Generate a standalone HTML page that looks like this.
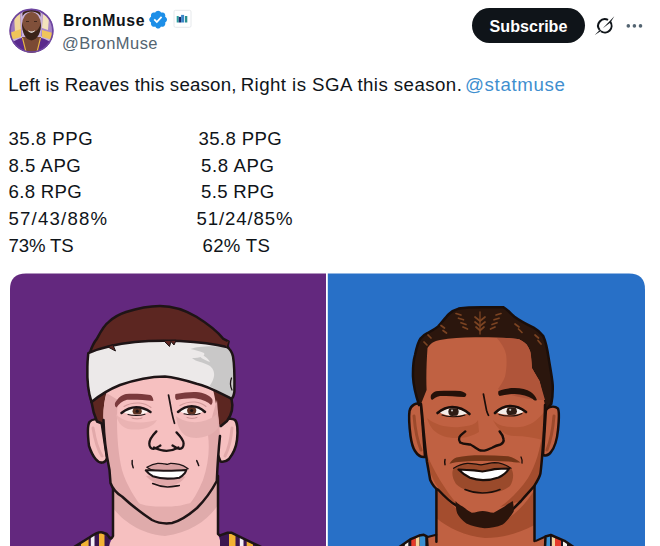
<!DOCTYPE html>
<html><head><meta charset="utf-8">
<style>
html,body{margin:0;padding:0;background:#fff;width:660px;height:546px;overflow:hidden;position:relative;font-family:"Liberation Sans",sans-serif;color:#0f1419}
.abs{position:absolute;white-space:pre;line-height:1}
#name{left:63px;top:13px;font-size:15.8px;font-weight:bold;letter-spacing:0.6px}
#handle{left:62px;top:35px;font-size:16.5px;color:#536471;letter-spacing:0.45px}
.tw{top:76px;font-size:18.7px}
.st{font-size:18.6px;letter-spacing:0.5px}
#sub{left:472px;top:8px;width:113px;height:35px;padding-top:1px;box-sizing:border-box;border-radius:18px;background:#0f1419;color:#fff;font-size:16.1px;font-weight:bold;text-align:center;line-height:35px}
#p1{left:10px;top:274px;width:316px;height:300px;background:#63277d;border-top-left-radius:16px}
#p2{left:328px;top:274px;width:317px;height:300px;background:#2b6bc5;border-top-right-radius:16px}
</style></head><body>
<svg class="abs" style="left:0;top:0" width="200" height="60" viewBox="0 0 200 60">
<defs><clipPath id="avc"><circle cx="31.5" cy="30.7" r="22"/></clipPath></defs>
<g clip-path="url(#avc)">
<rect x="0" y="0" width="60" height="60" fill="#c9b3dc"/>
<path d="M8 10 L20 8 L22 36 L8 40 Z" fill="#9a74bd"/>
<path d="M43 8 L56 10 L56 40 L41 36 Z" fill="#a885c6"/>
<path d="M14 14 L20 12 L21 30 L15 33 Z" fill="#f0d59a"/>
<path d="M43 14 L49 17 L48 30 L42 28 Z" fill="#f3e2bc"/>
<path d="M9 33 L21 29 L21 37 L10 40 Z" fill="#f0c55a"/>
<path d="M42 30 L53 33 L53 40 L42 37 Z" fill="#f0c55a"/>
<path d="M8 56 L10 44 C15 40 21 37.5 25 37.5 L38 37.5 C42 37.5 48 40 53 44 L55 56 Z" fill="#5a2a8c"/>
<path d="M22 37 L41 37 L37 56 L26 56 Z" fill="#7b4a34"/>
<path d="M22.5 38 L26.5 54 M40.5 38 L36.5 54" fill="none" stroke="#e8b84a" stroke-width="1.1"/>
<ellipse cx="31.5" cy="25" rx="9.5" ry="13" fill="#80503a"/>
<path d="M22 22 C22 33 25 39.5 31.5 40.5 C38 39.5 41 33 41 22 C39.5 29 36.5 32 31.5 32 C26.5 32 23.5 29 22 22 Z" fill="#3a2318"/>
<path d="M28 30 C30 32 33 32 35 30 C34.5 33.5 28.5 33.5 28 30 Z" fill="#fff"/>
<path d="M22.5 17 C24 10 39 10 40.5 17 L40.5 13 C37 8 26 8 22.5 13 Z" fill="#3a2318"/>
<path d="M26 21.5 L29 21.5 M34 21.5 L37 21.5" stroke="#3a2318" stroke-width="0.9"/>
</g>
<circle cx="31.5" cy="30.7" r="21.3" fill="none" stroke="#6d46a0" stroke-width="1.6"/>
<g transform="translate(147.7,9.2) scale(0.947)"><path fill="#1d8fe8" d="M20.396 11c-.018-.646-.215-1.275-.57-1.816-.354-.54-.852-.972-1.438-1.246.223-.607.27-1.264.14-1.897-.131-.634-.437-1.218-.882-1.687-.47-.445-1.053-.75-1.687-.882-.633-.13-1.29-.083-1.897.14-.273-.587-.704-1.086-1.245-1.44S11.647 1.62 11 1.604c-.646.017-1.273.213-1.813.568s-.969.854-1.24 1.44c-.608-.223-1.267-.272-1.902-.14-.635.13-1.22.436-1.69.882-.445.47-.749 1.055-.878 1.688-.13.633-.08 1.29.144 1.896-.587.274-1.087.705-1.443 1.245-.356.54-.555 1.17-.574 1.817.02.647.218 1.276.574 1.817.356.54.856.972 1.443 1.245-.224.606-.274 1.263-.144 1.896.13.634.433 1.218.877 1.688.47.443 1.054.747 1.687.878.633.132 1.29.084 1.897-.136.274.586.705 1.084 1.246 1.439.54.354 1.17.551 1.816.569.647-.016 1.276-.213 1.817-.567s.972-.854 1.245-1.44c.604.239 1.266.296 1.903.164.636-.132 1.22-.447 1.68-.907.46-.46.776-1.044.908-1.681s.075-1.299-.165-1.903c.586-.274 1.084-.705 1.439-1.246.354-.54.551-1.17.569-1.816z"/><path fill="#fff" d="M9.662 14.85l-3.429-3.428 1.293-1.302 2.072 2.072 4.4-4.794 1.347 1.246z"/></g>
<rect x="174" y="10.3" width="17" height="17" rx="1.5" fill="#fff" stroke="#e6e9ec" stroke-width="1"/>
<rect x="176.7" y="16" width="2" height="6.5" fill="#2aa0a0"/>
<rect x="178.7" y="16.9" width="2.4" height="5.6" fill="#1b2d6e"/>
<rect x="181.1" y="14.9" width="3" height="7.6" fill="#3a86c8"/>
<rect x="184.9" y="16" width="2.4" height="6.5" fill="#2a8f8f"/>
</svg>
<div class="abs" id="name">BronMuse</div>
<div class="abs" id="handle">@BronMuse</div>
<div class="abs" id="sub">Subscribe</div>
<svg class="abs" style="left:590px;top:8px" width="70" height="36" viewBox="590 8 70 36">
<path d="M608.05 19.88 A6.7 6.7 0 0 0 599.62 29.92" fill="none" stroke="#0f1419" stroke-width="2"/>
<path d="M600.96 31.22 A6.7 6.7 0 0 0 610.18 21.68" fill="none" stroke="#0f1419" stroke-width="2"/>
<path d="M602.8 28.2 L614.3 16.3 L610.5 22.5 Z" fill="#0f1419"/>
<path d="M594.8 35 L600.2 29.6 L601.4 30.8 Z" fill="#0f1419"/>
<circle cx="628.3" cy="25.9" r="1.8" fill="#536471"/>
<circle cx="634.4" cy="25.9" r="1.8" fill="#536471"/>
<circle cx="640.5" cy="25.9" r="1.8" fill="#536471"/>
</svg>
<div class="abs tw" style="left:8.2px;letter-spacing:0.19px">Left is Reaves this season,</div>
<div class="abs tw" style="left:240.7px;letter-spacing:0.43px">Right is SGA this season.</div>
<div class="abs tw" style="left:464.9px;letter-spacing:0.66px;color:#3f8fcf">@statmuse</div>
<div class="abs st" style="left:8.5px;top:130px;letter-spacing:0.5px">35.8 PPG</div>
<div class="abs st" style="left:8.5px;top:157px;letter-spacing:0.5px">8.5 APG</div>
<div class="abs st" style="left:8.5px;top:183px;letter-spacing:0.33px">6.8 RPG</div>
<div class="abs st" style="left:8.5px;top:210px;letter-spacing:1.2px">57/43/88%</div>
<div class="abs st" style="left:8.5px;top:237px;letter-spacing:-0.14px">73% TS</div>
<div class="abs st" style="left:198.4px;top:130px;letter-spacing:0.4px">35.8 PPG</div>
<div class="abs st" style="left:201px;top:157px;letter-spacing:0.6px">5.8 APG</div>
<div class="abs st" style="left:201px;top:183px;letter-spacing:0.33px">5.5 RPG</div>
<div class="abs st" style="left:196.4px;top:210px;letter-spacing:0.91px">51/24/85%</div>
<div class="abs st" style="left:202.6px;top:237px;letter-spacing:0.28px">62% TS</div>
<svg class="abs" style="left:0;top:0" width="660" height="546" viewBox="0 0 660 546">
<defs>
<clipPath id="c1"><path d="M10 289.5 Q10 273.5 26 273.5 L326 273.5 L326 546 L10 546 Z"/></clipPath>
<clipPath id="c2"><path d="M327.8 273.5 L629 273.5 Q645 273.5 645 289.5 L645 546 L327.8 546 Z"/></clipPath>
</defs>
<g clip-path="url(#c1)">
<rect x="10" y="273" width="316" height="273" fill="#63287e"/>
<g stroke="#1e1416" stroke-width="2.5" stroke-linejoin="round" stroke-linecap="round">
<!-- neck -->
<path d="M113 478 L113 536 L107 550 L223 550 L218 534 L218 476 Z" fill="#f6c0c0" stroke="none"/>
<path d="M113 486 C125 500 145 518 165 523 C185 520 205 503 218 480 L218 505 C208 520 190 533 165 536 C140 534 122 520 113 508 Z" fill="#dfabab" stroke="none"/>
<!-- jersey left -->
<clipPath id="jr1"><path d="M75.9 546 L89.7 537.3 Q100 530 102.4 532.5 L106.7 534 L109.8 537.8 L109 550 L70 550 Z"/></clipPath>
<g clip-path="url(#jr1)" stroke="none">
<rect x="60" y="525" width="60" height="25" fill="#3b1650"/>
<rect x="81" y="525" width="7.6" height="25" fill="#f2b233"/>
<rect x="90.8" y="525" width="3.7" height="25" fill="#f3eef5"/>
<rect x="99" y="525" width="5.5" height="25" fill="#f2b233"/>
</g>
<path d="M74 547 L89.7 537.3 Q98 531.5 102.4 532.5 L106.7 534 L109.8 537.8" fill="none"/>
<path d="M113 478 L113 536 Q111 540 109.8 537.8" fill="none"/>
<!-- jersey right -->
<clipPath id="jr2"><path d="M220 535.4 L227.6 532.8 L231.8 532.8 L245.6 539.7 L261 547 L220 550 Z"/></clipPath>
<g clip-path="url(#jr2)" stroke="none">
<rect x="215" y="525" width="50" height="25" fill="#3b1650"/>
<rect x="229" y="525" width="6.5" height="25" fill="#f2b233"/>
<rect x="239.8" y="525" width="3.7" height="25" fill="#f3eef5"/>
<rect x="246.7" y="525" width="6.3" height="25" fill="#f2b233"/>
</g>
<path d="M261 547 L245.6 539.7 L231.8 532.8 L227.6 532.8 L220 535.4" fill="none"/>
<path d="M218 476 L218 534 L220 535.4" fill="none"/>
<!-- ears -->
<path d="M101.5 422 C97 418 92 419 89.5 422 C87 426 87.4 433 89 446 C91 452 93 456 95.6 459 C98 462 101 463 103 462.4 C105 462 106.5 460 107 458 Z" fill="#f6c0c0"/>
<path d="M93 428 C95 440 98 450 102 456" fill="none" stroke="#e2a9aa" stroke-width="3"/>
<path d="M223 422 C227 418 232 418 235 420 C238 423 238 430 237 440 C236 448 233 454 229 459 C226 462 223 462 220.5 461.5 L214 445 L214 424 Z" fill="#f6c0c0"/>
<path d="M232 428 C231 440 228 450 225 456" fill="none" stroke="#e2a9aa" stroke-width="3"/>
<!-- hair dome -->
<path d="M88 362 L89.7 353.2 C92 346 95 341 97 338.6 C101 331 104 325 109 321.7 C114 317 120 314 126 312 C138 308 150 305.9 160 305.9 C175 306 187 311 196.4 316.8 C208 324 217 331 223 338.6 L228.6 341.5 L227.5 346 L230 352 L229 395 L231.5 399 C233.5 407 231.5 415 227 421 L221 426 L106 426 L101 423 L97 421.5 C94 415 92.5 409 91.5 402 L88 380 Z" fill="#5c2621"/>
<!-- face -->
<path d="M106 375 L106.4 393 C104 402 103 412 103.5 420 C104 440 107 458 109.5 470 C110 476 110.3 480 110.5 483 C113 490 118 494 122 496.5 C130 504 140 512 152 520 C158 523 165 524 172 523 C180 521 190 514 197 508 C205 500 212 490 216.8 481 C217.5 465 218.5 450 220 436 C220 428 218 412 213 389 L213 375 Z" fill="#f6c0c0" stroke="none"/>
<!-- face shading -->
<path d="M106.4 393 C104 402 103 412 103.5 420 C104 440 107 458 109.5 470 C110 476 110.3 480 110.5 483 C113 490 118 494 122 496.5 C130 504 140 512 152 520 C140 505 128 490 122 470 C117 450 116 420 118 400 Z" fill="#e2aaab" stroke="none"/>
<path d="M217 400 C218 415 219.5 425 220 436 C218.5 450 217.5 465 216.8 481 C212 490 205 500 197 508 C190 514 180 521 172 523 C185 512 196 498 203 480 C208 465 210 450 208 435 C210 425 213 412 217 400 Z" fill="#e2aaab" stroke="none"/>
<path d="M116 414 C122 422 140 425 157 420 C153 428 140 431 128 429 C121 427 117 421 116 414 Z" fill="#eab3b3" stroke="none"/>
<path d="M176 416 C186 424 204 425 217 414 L218 428 C210 438 196 440 186 436 C180 432 177 425 176 416 Z" fill="#e6b1b1" stroke="none"/>
<path d="M130 500 C135 502 140 504 146 505.5 C152 506.5 158 506.6 165 506.6 C172 506.6 176 506 180.8 505.5 C187 504 192 502.5 199 500 C195 506 190 511 184 516 C178 520 172 522.5 165 523 C158 522.5 152 520 146 515 C140 510 134 505 130 500 Z" fill="#e4adad" stroke="none"/>
<path d="M103.5 420 C104 440 107 458 109.5 470 C110 476 110.3 480 110.5 483 C113 490 118 494 122 496.5 C130 504 140 512 152 520 C158 523 165 524 172 523 C180 521 190 514 197 508 C205 500 212 490 216.8 481 C217.5 465 218.5 450 220 436" fill="none"/>
<!-- headband -->
<path d="M88.3 353.2 C100 348 115 344 135 342 C150 340.5 165 340.5 180 341 C200 342 215 344 227 347 C230 349 232 352 233 356.4 C234.5 365 234.6 380 234.4 391.5 C234 395 233 397.5 231.5 398.8 C220 393 208 386 196.6 383.7 C185 380 175 377 165 376.4 C150 376.5 134 380 120 385 C110 389 100 395 91.5 402 C88 392 87 380 87.4 367 C87.5 360 88 356 88.3 353.2 Z" fill="#ece9e9" stroke="none"/>
<path d="M190.5 349 C198 346 212 345.5 227 347 C230 349 232 352 233 356.4 C234.5 365 234.6 380 234.4 391.5 C234 395 233 397.5 231.5 398.8 C225 395 217 390 209.5 386 C214 380 217 372 210 366 C204 362 196 362 192 358 C200 358 206 356 204 353 C200 351 195 350 190.5 349 Z" fill="#c9c8c8" stroke="none"/>
<path d="M196 352 C202 354 208 358 210 362 C204 360 199 357 196 352 Z" fill="#ece9e9" stroke="none"/>
<path d="M231.5 378 C230 382 230.5 387 232 390" fill="none" stroke-width="1.3"/>
<path d="M88.3 353.2 C100 348 115 344 135 342 C150 340.5 165 340.5 180 341 C200 342 215 344 227 347 C230 349 232 352 233 356.4 C234.5 365 234.6 380 234.4 391.5 C234 395 233 397.5 231.5 398.8 C220 393 208 386 196.6 383.7 C185 380 175 377 165 376.4 C150 376.5 134 380 120 385 C110 389 100 395 91.5 402 C88 392 87 380 87.4 367 C87.5 360 88 356 88.3 353.2 Z" fill="none"/>
<!-- hair tufts over headband -->
<path d="M108 347 L115.5 351 L113 345 Z" fill="#5c2621" stroke-width="1"/>
<path d="M164 341 L169.5 346.5 L171 341.5 L174 345 L176 340.5 Z" fill="#5c2621" stroke-width="1"/>
<path d="M224 343 L228.6 341 L226.5 347 Z" fill="#5c2621" stroke="none"/>
<!-- brows -->
<path d="M115 403 C118 398 121 395 126 394 C134 393.5 143 394 150.3 395 C152.5 396 153.5 399 153.3 401 C145 400 135 399.5 127 399.8 C122 401 119 404 116.5 407.5 C115 406.5 114.6 405 115 403 Z" fill="#7a3a3c" stroke="none"/>
<path d="M175.5 394 C183 392.5 190 391.8 196 392 C204 392.5 209 395 212.2 399 C213 401 212.5 404 211 405 C208 402 203 399.5 196 398.5 C189 398 182 399 176.5 400 C175 399 174.8 396 175.5 394 Z" fill="#7a3a3c" stroke="none"/>
<!-- eyes -->
<path d="M124 406.5 C129 403.5 135 402.8 139 403 C144 403.5 148 405 151 407.5" fill="none" stroke="#d39a9b" stroke-width="1.1"/>
<path d="M123 412.2 C128 409 132 408 136.2 408 C141 408 146 409.5 149.3 411.2 C146 413.3 141 414.5 136 414.5 C131 414.3 127 413.5 123 412.2 Z" fill="#fbf4f2" stroke="none"/>
<clipPath id="rel"><path d="M123 412.2 C128 409 132 408 136.2 408 C141 408 146 409.5 149.3 411.2 C146 413.3 141 414.5 136 414.5 C131 414.3 127 413.5 123 412.2 Z"/></clipPath>
<g clip-path="url(#rel)" stroke="none"><circle cx="137.2" cy="411.2" r="4.6" fill="#5e3322"/><circle cx="137.2" cy="411.2" r="1.6" fill="#1e1416"/></g>
<path d="M121.5 413 C127 408.5 132 407.2 136.2 407.2 C141 407.2 146 408.8 150.5 412" fill="none" stroke-width="2.5"/>
<path d="M128 414.5 C132 415.8 140 416 145 414.3" fill="none" stroke-width="1.1"/>
<path d="M132 418 C135 419.2 139 419.2 142 418" fill="none" stroke="#c98f90" stroke-width="1"/>
<path d="M180 405.5 C185 402.5 191 401.8 195 402 C200 402.5 203 404 206 406.5" fill="none" stroke="#d39a9b" stroke-width="1.1"/>
<path d="M179.6 411.2 C184 408 188 407 191.7 407 C196 407 200 408.8 203.8 411.2 C200 413.3 196 414 191.5 414 C187 414 183 413.3 179.6 411.2 Z" fill="#fbf4f2" stroke="none"/>
<clipPath id="rer"><path d="M179.6 411.2 C184 408 188 407 191.7 407 C196 407 200 408.8 203.8 411.2 C200 413.3 196 414 191.5 414 C187 414 183 413.3 179.6 411.2 Z"/></clipPath>
<g clip-path="url(#rer)" stroke="none"><circle cx="191.7" cy="410.5" r="4.6" fill="#5e3322"/><circle cx="191.7" cy="410.5" r="1.6" fill="#1e1416"/></g>
<path d="M178 412 C183 407.5 188 406.2 191.7 406.2 C196 406.2 201 408.2 205 412" fill="none" stroke-width="2.5"/>
<path d="M184 413.8 C188 415 196 415.2 200 413.5" fill="none" stroke-width="1.1"/>
<path d="M187 417.5 C190 418.7 194 418.7 197 417.5" fill="none" stroke="#c98f90" stroke-width="1"/>
<!-- nose -->
<path d="M168.5 395 C169.5 400 170.5 405 171.5 411.2 C172.5 416 173.5 420 174.5 423.3" fill="none" stroke-width="1.7"/>
<path d="M156.4 431.4 C152 436 149.3 440 149.3 443.5 C149.3 447 151 449 153.5 448.8 C156 448.5 158 447 160.4 445.5" fill="none" stroke-width="2.3"/>
<path d="M154 447.5 C158 449.5 162 450.8 166.5 450.8 C171 450.8 175 449.5 178.5 447.5" fill="none" stroke-width="2.3"/>
<path d="M176.5 432.4 C180 436 183.6 440 183.6 443.5 C183.6 447 182 449 179.5 448.8 C177 448.5 175 447 172.5 445.5" fill="none" stroke-width="2.3"/>
<!-- mouth -->
<path d="M146.8 467.3 C150 465.5 154 463.8 157.7 463.4 C160 463.2 162.5 463.7 164.6 463.9 C166 464.2 167 464.4 167.5 464.4 C168.5 464.2 169.5 463.5 170.5 463.4 C173 463.3 176 463.8 179.3 464.4 C182 465 185 466.5 188.2 468.8 C180 472 174 471 167.5 471 C160 471 153 472 146.8 467.3 Z" fill="#daa2a3" stroke-width="1.2"/>
<path d="M146 476 C150 481 158 485 167.5 486 C176 485.5 182 482 185 477 C182 474 178 477 167.5 478.6 C158 478 152 475 146 476 Z" fill="#e2a9aa" stroke="none"/>
<path d="M145.8 470.3 C152 470 160 470.8 167.5 470.8 C175 470.8 181 470 186.2 470.3 C185.5 472 185 473 184.3 473.7 C182.5 476 181 477 179.3 477.7 C175 478.5 171 478.6 167.5 478.6 C162 478.4 157 477.5 152.7 476.2 C150 474.5 147.5 472.5 145.8 470.3 Z" fill="#ffffff" stroke-width="2.1"/>
<path d="M152.7 483.6 C157 485.5 162 486.8 167.5 487 C172 486.8 176 486 179.3 485.5" fill="none" stroke-width="1.6"/>
<path d="M132.2 460.6 C131.8 463 132.2 465.5 133.2 467.7" fill="none" stroke-width="1.5"/>
<path d="M196.7 460.6 C197.6 462.5 198.2 464 198.7 465.6" fill="none" stroke-width="1.5"/>
</g>

</g>
<g clip-path="url(#c2)">
<rect x="327" y="273" width="318" height="273" fill="#2870c7"/>
<g stroke="#1a0e0a" stroke-width="2.5" stroke-linejoin="round" stroke-linecap="round">
<!-- neck -->
<path d="M436.4 480 L436.4 534.8 L427.6 537 L427.6 550 L545 550 L545.5 536.5 L534.5 541 L534.5 480 Z" fill="#c06142" stroke="none"/>
<path d="M436.4 488 C450 505 470 522 490 526 C510 522 525 505 534.5 490 L534.5 525 C515 535 500 538 485 538 C465 536 448 528 436.4 518 Z" fill="#a44d2e" stroke="none"/>
<!-- jersey left -->
<clipPath id="js1"><path d="M400.3 546 L410.2 539.4 L419.2 535.6 L423.8 534.8 L426.8 536.4 L427.6 550 L395 550 Z"/></clipPath>
<g clip-path="url(#js1)" stroke="none">
<rect x="395" y="530" width="35" height="20" fill="#1a1420"/>
<rect x="404.8" y="530" width="3.5" height="20" fill="#f4f0ea"/>
<rect x="411.3" y="530" width="4.5" height="20" fill="#e63a2a"/>
<rect x="415.8" y="530" width="3.7" height="20" fill="#f3d39a"/>
<rect x="420" y="530" width="5.3" height="20" fill="#3a8fd0"/>
</g>
<path d="M398 548 L410.2 539.4 L419.2 535.6 L423.8 534.8 L426.8 536.4 L427.6 548" fill="none"/>
<path d="M427.6 537 L436.3 534.8" fill="none" stroke-width="2"/>
<path d="M436.4 480 L436.4 541.7" fill="none"/>
<!-- jersey right -->
<clipPath id="js2"><path d="M545.5 536.5 L550.8 535 L564.5 540.8 L573 546 L575 550 L545 550 Z"/></clipPath>
<g clip-path="url(#js2)" stroke="none">
<rect x="540" y="530" width="40" height="20" fill="#1a1420"/>
<rect x="546" y="530" width="4" height="20" fill="#3a8fd0"/>
<rect x="551.8" y="530" width="3.2" height="20" fill="#f3d39a"/>
<rect x="555" y="530" width="6" height="20" fill="#e63a2a"/>
<rect x="563" y="530" width="4" height="20" fill="#f4f0ea"/>
</g>
<path d="M545 548 L545.5 536.5 L550.8 535 L564.5 540.8 L575 548" fill="none"/>
<path d="M545.5 536.5 L536 540.8" fill="none" stroke-width="2"/>
<path d="M534.5 480 L534.5 541" fill="none"/>
<!-- ears -->
<path d="M421 404 C416 402.5 411 405 409.5 411 C408.5 418 409.5 428 410.5 436 C411.5 443 413 448 415 451 C417.5 455 421 457.5 425 457 Z" fill="#c06142"/>
<path d="M414 416 C415 428 417 440 421 450" fill="none" stroke="#9c4a2c" stroke-width="3"/>
<path d="M546 409 C550 406.5 555 406 557.8 408.4 C559.5 411 559 420 558 430 C557 440 555 447 551 452 C549 455 546 456 543 455 Z" fill="#c06142"/>
<path d="M554 416 C553 428 551 440 547 450" fill="none" stroke="#9c4a2c" stroke-width="3"/>
<!-- hair -->
<path d="M419 405 C416 396 413.5 388 413 376.8 C412.8 368 413.5 360 415 355 C416.5 348 418 342 420.5 338.6 C422.5 336 424.5 334.5 427.3 333.2 C431 331 435 329 438.2 326.4 C442 322 446 317 449 314 C452 311 455 309.5 458.6 308.6 C466 307.5 474 307.3 481.8 307.3 C489 307.3 496 307 503.6 307.3 C507 309 511 314 514.5 316.8 C520 321 527 324.5 533.6 327.7 C537.5 330 541 333 543.2 335.9 C545.5 341 547.5 350 548.6 357.7 C550 367 552 376 552.7 385 C553 392 552.5 398 551.3 404 L546 410 L540 408 Z" fill="#2b160d"/>
<!-- braids -->
<g stroke="#7a4322" stroke-width="1.7" fill="none" stroke-linecap="round">
<path d="M480 312 L480 334" stroke-width="1.3"/>
<path d="M475 317 L480 321 L485 317"/><path d="M475 322 L480 326 L485 322"/><path d="M476 327 L480 330.5 L484 327"/>
<path d="M456 313.5 L461 315"/><path d="M458.5 318.2 L463.5 319.8"/><path d="M461 322.7 L466 324.5"/><path d="M463 327 L467.5 329"/>
<path d="M501 313.5 L496 315"/><path d="M499 318.2 L494 319.8"/><path d="M497 322.7 L492 324.5"/><path d="M495 327 L490.5 329"/>
<path d="M441 325.5 L444.5 328"/><path d="M443 330.5 L446.5 333"/><path d="M428 335 L431 338"/><path d="M424 342 L427 345"/>
<path d="M515 324 L519 327"/><path d="M518.5 329 L522 332.5"/><path d="M535 335 L538.5 338"/><path d="M538 340.5 L541 344"/>
</g>
<!-- face -->
<path d="M427.5 348 C426.5 362 426 378 426.6 390 L421 404 C423 420 424 440 427 462 C428.5 470 429.5 476 430.2 480 C433 486 436 489 438.5 490 C446 498 452 503 455 504.6 C462 510 468 514 473.3 515.6 C482 519 490 520.5 497.3 519 C503 517 508 514.5 508.3 513.8 C514 508 518 504 521 501 C527 494 531 490 534 486.3 C538 480 540 476 540.4 473.5 C542 462 543 445 544 430 C544.5 420 545 412 545 405 L539.5 381 C536 375 533 370 532 368.3 C531.5 362 531 356 530.3 351.8 C529 348 527.5 346 526.6 344.5 C523 341 520 339.5 517.5 339 C505 337.5 490 337 475 337.2 C462 337.5 450 338 440 340 C434 341 431 343 427.5 348 Z" fill="#c06142" stroke="none"/>
<!-- face shading -->
<path d="M496.8 338 C503 345 506.4 352 506.4 357.7 C507 365 506 372 505 376.8 C503 382 500 386 498 389 C505 395 530 400 545 400 L539.5 381 C536 375 533 370 532 368.3 C531.5 360 531 354 530.3 351.8 C529 348 527.5 346 526.6 344.5 C523 341 520 339.5 517.5 339 C510 338 503 338 496.8 338 Z" fill="#b0553a" stroke="none"/>
<path d="M427 418 C435 425 447 428 460 427 C470 426 476 424 478 420 L479 432 C470 438 455 440 443 436 C435 433 430 428 427 418 Z" fill="#b35736" stroke="none"/>
<path d="M493 420 C498 426 508 428 520 427 C530 426 538 420 544 412 L543 440 C535 438 525 436 515 436 C505 436 498 430 493 420 Z" fill="#b35736" stroke="none"/>
<path d="M543 430 C540 450 536 465 528 478 C520 490 510 500 500 507 L521 501 C527 494 531 490 534 486.3 C538 480 540 476 540.4 473.5 C542 462 543 445 544 430 Z" fill="#a44d2e" stroke="none"/>


<path d="M425 450 C428 470 433 482 440 490 C448 498 455 504 458 505 C445 490 433 470 425 450 Z" fill="#a9502f" stroke="none"/>
<path d="M421 404 C423 420 424 440 427 462 C428.5 470 429.5 476 430.2 480 C433 486 436 489 438.5 490 C446 498 452 503 455 504.6 C462 510 468 514 473.3 515.6 C482 519 490 520.5 497.3 519 C503 517 508 514.5 508.3 513.8 C514 508 518 504 521 501 C527 494 531 490 534 486.3 C538 480 540 476 540.4 473.5 C542 462 543 445 544 430 C544.5 420 545 412 545 405" fill="none"/>
<!-- brows -->
<path d="M431 395 C433 392.5 435 391 438 391 C446 390.5 454 390.5 460.2 391 C463 391.5 465 392.5 466.3 394 C466.5 395.5 465.5 397 464.3 397 C456 396.5 448 396 440 396 C436 397 434 398.5 432 400 C430.5 399 430.5 397 431 395 Z" fill="#241109" stroke="none"/>
<path d="M498.5 391 C504 389 509 388 514.7 388 C521 388 527 389.5 530.8 392 C534 394 536 397 536.9 400 C535.5 401 534 400.5 532.8 399 C528 396 522 394.5 514.7 394 C509 394 504 395 499.6 396 C498 395 498 393 498.5 391 Z" fill="#241109" stroke="none"/>
<!-- eyes -->
<path d="M439 412.3 C444 409.5 448 408.3 452.2 408.2 C458 408 463 410 468.3 413.3 C463 415.3 458 416 452 416 C447 415.8 443 414.5 439 412.3 Z" fill="#f4ede8" stroke="none"/>
<clipPath id="ecl"><path d="M439 412.3 C444 409.5 448 408.3 452.2 408.2 C458 408 463 410 468.3 413.3 C463 415.3 458 416 452 416 C447 415.8 443 414.5 439 412.3 Z"/></clipPath>
<g clip-path="url(#ecl)" stroke="none"><circle cx="453.5" cy="411.8" r="5.2" fill="#2e1c14"/><circle cx="452" cy="410.5" r="1.1" fill="#fff" opacity="0.7"/></g>
<path d="M437.5 413 C443 408.5 448 407 452.2 407 C458 407 464 409 469.5 414" fill="none" stroke-width="2.6"/>
<path d="M442 415 C447 417 458 417.8 465 415" fill="none" stroke-width="1.1"/>
<path d="M496.5 412.3 C501 409 506 407.5 510.6 407.3 C516 407.2 520 409 524.8 411.3 C520 413.8 516 415 510.5 415 C505 415 500 414.3 496.5 412.3 Z" fill="#f4ede8" stroke="none"/>
<clipPath id="ecr"><path d="M496.5 412.3 C501 409 506 407.5 510.6 407.3 C516 407.2 520 409 524.8 411.3 C520 413.8 516 415 510.5 415 C505 415 500 414.3 496.5 412.3 Z"/></clipPath>
<g clip-path="url(#ecr)" stroke="none"><circle cx="511.7" cy="411.2" r="5.2" fill="#2e1c14"/><circle cx="510.2" cy="409.8" r="1.1" fill="#fff" opacity="0.7"/></g>
<path d="M495 413 C500 408 506 406 510.6 406 C516 406 521 408 526 412" fill="none" stroke-width="2.6"/>
<path d="M499 414.5 C505 416.5 516 417 522 413.5" fill="none" stroke-width="1.1"/>
<!-- nose -->
<path d="M483.4 394 C484.5 400 485.5 405 486.5 410.2 C487 412 487.8 414 488.5 415.3" fill="none" stroke-width="1.7"/>
<path d="M465.3 431.4 C462 434 459.5 436 459.2 437.5 C458.8 439 459 441 460.2 442.5 C463 444 466 444 470.3 444.5 C473 446 476 448 478.4 449.6 C480 450.5 482 450.8 484.4 450.6 C488 450 490 448.5 492.5 447.5 C495 446 498 445 500.6 444.5 C503 443 504 441 503.6 439.5 C503 436 501.5 433.5 499.6 431.4" fill="none" stroke-width="2.4"/>
<!-- mustache -->
<path d="M449.5 463.8 C451 461 453.5 458.5 456.4 457.5 C464 455.8 472 455.2 481 455.2 C490 455.2 499 455.5 508.2 456.2 C513 457.2 517 459.5 520.5 462.5 C517 462.8 513 462 508 461.5 C499 461 490 461 481 461 C472 461 463 461.3 456 462.3 C453.5 462.8 451.5 463.3 449.5 463.8 Z" fill="#733619" stroke="none"/>
<!-- mouth -->
<path d="M453.6 468.2 C458 465.5 462 463.8 467.3 463.4 C472 463.2 477 464.5 481 464.8 C486 464.5 490 462.8 494.6 462.7 C501 462.8 506 465 511 468.2 C514 472 514 480 510 486 C503 492 493 493.5 482.3 493 C471 492.5 462 490 456 484 C452 478 451.5 472 453.6 468.2 Z" fill="#9a4a2b" stroke="none"/>
<path d="M453.6 468.2 C458 465.5 462 463.8 467.3 463.4 C472 463.2 477 464.5 481 464.8 C486 464.5 490 462.8 494.6 462.7 C501 462.8 506 465 511 468.2" fill="none" stroke-width="1.3"/>
<path d="M458.5 469.5 C464 470 469 470.3 474.1 470.3 C477 470.5 480 471.3 482.3 471.5 C486 471.2 490 470 494.6 469.2 C499 468.8 504 468.6 509 468.5 C507 472 503 475.5 498.5 477.5 C493 479.5 488 480.2 483 480.2 C478 480 474 479.2 470 477.8 C465 475.5 461.5 472.5 458.5 469.5 Z" fill="#ffffff" stroke-width="2.2"/>
<path d="M465 489.5 C471 492 477 493 482.3 493 C488 493 494 492 500 489.5" fill="none" stroke-width="1.6"/>
<path d="M445 459.6 C444.5 461.5 444.6 463 445 464.7" fill="none" stroke-width="1.5"/>
<path d="M521 457 C522 459 522.5 461 522 463" fill="none" stroke-width="1.3"/>
<!-- goatee -->
<path d="M455.5 501 C458 504 460 505 462.7 506.4 C466 509 469 511.5 471.8 512.7 C476 512.5 479 511 482.7 510.9 C486 511 490 512.5 493.6 512.7 C497 511 501 508.5 504.5 506.4 C507 504.5 510 502.5 512.7 500.9 C513.5 504 514 508 513.6 511.8 C511 516 507 521 502.7 524.5 C497 527 490 528.2 484.5 528.2 C478 527.5 472 526 466.4 523.6 C462 520 459 517 457.3 513.6 C456 510 455.5 505 455.5 501 Z" fill="#2b140b" stroke="none"/>
</g>

</g>
</svg>

</body></html>
